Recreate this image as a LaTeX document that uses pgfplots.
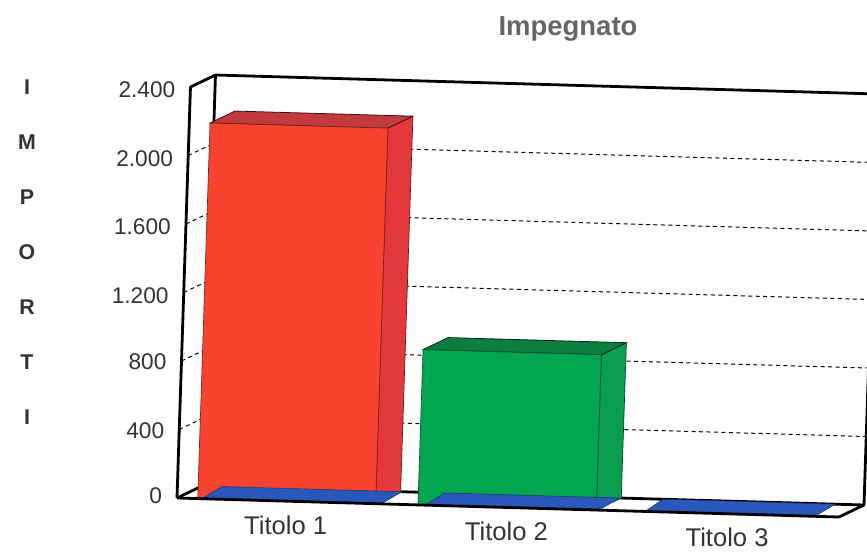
\documentclass[border=0pt]{standalone}
\usepackage{fontspec}
\setmainfont{Liberation Sans}
\usepackage{pgfplots}
\pgfplotsset{compat=1.18}

\definecolor{redfront}{HTML}{F8432F}
\definecolor{redside}{HTML}{E3393C}
\definecolor{redtop}{HTML}{C23A3E}
\definecolor{greenfront}{HTML}{03A650}
\definecolor{greenside}{HTML}{0A9E50}
\definecolor{greentop}{HTML}{0A7F40}
\definecolor{basecol}{HTML}{2A57BA}
\definecolor{txt}{HTML}{333333}

\pgfplotsset{griglia/.style={black, line width=0.75pt, dash pattern=on 3pt off 2.6pt, forget plot},
  cornice/.style={black, line width=2.1pt, line join=round, forget plot}}

\begin{document}
\begin{tikzpicture}
\useasboundingbox (0,0) rectangle (650.25pt,-414pt);
\clip (0,0) rectangle (650.25pt,-414pt);

\begin{axis}[
    anchor=origin,
    at={(132.75pt,-373.5pt)},
    x={(165.5pt,-4.75pt)},
    y={(18.75pt,9pt)},
    z={(0.0042188pt,0.128438pt)},
    xmin=0, xmax=3,
    ymin=0, ymax=1,
    zmin=0, zmax=2400,
    clip=false,
    axis line style={draw=none},
    major tick style={draw=none},
    xtick={0.5,1.5,2.5},
    xticklabels={Titolo 1,Titolo 2,Titolo 3},
    ytick=\empty,
    ztick={0,400,800,1200,1600,2000,2400},
    xticklabel pos=lower,
    zticklabel pos=left,
    /pgf/number format/.cd, assume math mode=true, 1000 sep={.}, min exponent for 1000 sep=3,
    /pgfplots/.cd,
    tick label style={font=\fontsize{17}{17}\selectfont, text=txt},
    xticklabel style={font=\fontsize{19.2}{19.2}\selectfont, xshift=6.2pt, yshift=-6.5pt},
    zticklabel style={xshift=-8pt, yshift=3.2pt},
]
% griglia tratteggiata
\addplot3[griglia] coordinates {(0,0,400) (0,1,400) (3,1,400)};
\addplot3[griglia] coordinates {(0,0,800) (0,1,800) (3,1,800)};
\addplot3[griglia] coordinates {(0,0,1200) (0,1,1200) (3,1,1200)};
\addplot3[griglia] coordinates {(0,0,1600) (0,1,1600) (3,1,1600)};
\addplot3[griglia] coordinates {(0,0,2000) (0,1,2000) (3,1,2000)};

% cornice
\addplot3[cornice] coordinates {(0,0,0) (0,0,2400) (0,1,2400) (3,1,2400)};
\addplot3[cornice] coordinates {(0,1,2400) (0,1,0) (0,0,0)};
\addplot3[cornice] coordinates {(0,1,0) (3,1,0) (3,0,0)};
\addplot3[cornice] coordinates {(3,1,0) (3,1,2400)};

% Titolo 1
\addplot3[fill=redside, draw=black!60!redside, line width=0.5pt, forget plot] coordinates {(0.90,0,0) (0.90,1,0) (0.90,1,2193) (0.90,0,2193)} -- cycle;
\addplot3[fill=redtop, draw=black!70!redtop, line width=0.6pt, forget plot] coordinates {(0.094,0,2193) (0.90,0,2193) (0.90,1,2193) (0.094,1,2193)} -- cycle;
\addplot3[fill=redfront, draw=black!50!redfront, line width=0.5pt, forget plot] coordinates {(0.094,0,0) (0.90,0,0) (0.90,0,2193) (0.094,0,2193)} -- cycle;

% Titolo 2
\addplot3[fill=greenside, draw=black!60!greenside, line width=0.5pt, forget plot] coordinates {(1.90,0,0) (1.90,1,0) (1.90,1,907) (1.90,0,907)} -- cycle;
\addplot3[fill=greentop, draw=black!70!greentop, line width=0.6pt, forget plot] coordinates {(1.092,0,907) (1.90,0,907) (1.90,1,907) (1.092,1,907)} -- cycle;
\addplot3[fill=greenfront, draw=black!50!greenfront, line width=0.5pt, forget plot] coordinates {(1.092,0,0) (1.90,0,0) (1.90,0,907) (1.092,0,907)} -- cycle;

% basi blu
\addplot3[fill=basecol, draw=black!40!basecol, line width=0.4pt, forget plot] coordinates {(0.113,0,0) (0.925,0,0) (0.906,1,0) (0.09,1,0)} -- cycle;
\addplot3[fill=basecol, draw=black!40!basecol, line width=0.4pt, forget plot] coordinates {(1.124,0,0) (1.912,0,0) (1.89,1,0) (1.10,1,0)} -- cycle;
\addplot3[fill=basecol, draw=black!40!basecol, line width=0.4pt, forget plot] coordinates {(2.12,0,0) (2.89,0,0) (2.87,1,0) (2.09,1,0)} -- cycle;

% linea frontale del pavimento
\addplot3[cornice] coordinates {(0,0,0) (3,0,0)};
\end{axis}

\node[font=\bfseries\fontsize{20.6}{20.6}\selectfont, text=black!60] at (568*0.75pt,-29*0.75pt) {Impegnato};
\foreach \l/\y in {I/87,M/142,P/197,O/252,R/307,T/362,I/417}
  \node[font=\bfseries\fontsize{16}{16}\selectfont, text=txt] at (27*0.75pt,-\y*0.75pt) {\l};
\end{tikzpicture}
\end{document}
